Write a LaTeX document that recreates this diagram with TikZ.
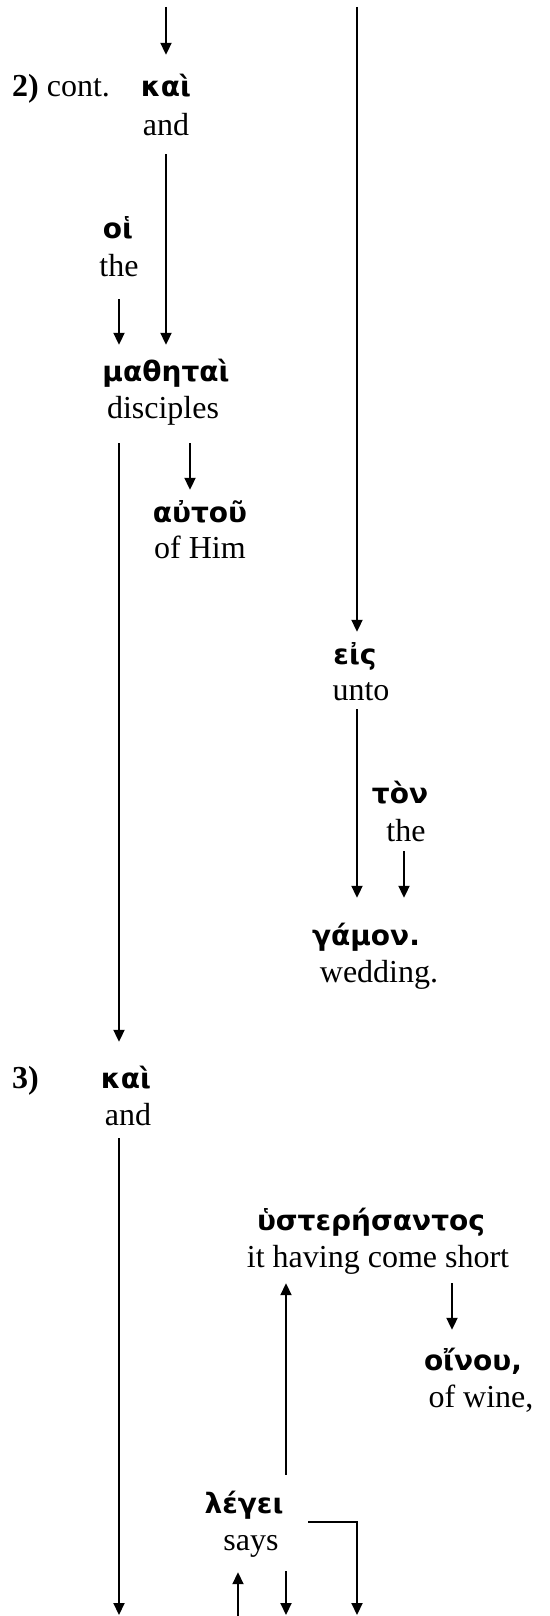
\documentclass[tikz,border=0pt]{standalone}
\usepackage{fontspec}
\setmainfont{Liberation Serif}
\newfontfamily\gkfont{DejaVu Sans}
\usetikzlibrary{arrows.meta,calc}
\begin{document}
\begin{tikzpicture}[x=1pt,y=-1pt,
  gk/.style={inner sep=0pt,anchor=base,text height=20pt,text depth=6pt,font=\gkfont\bfseries\fontsize{28}{32}\selectfont},
  en/.style={inner sep=0pt,anchor=base,text height=22pt,text depth=7pt,font=\fontsize{32}{38}\selectfont},
  lbl/.style={inner sep=0pt,anchor=base west,font=\fontsize{32}{38}\selectfont},
  conn/.style={line width=2pt},
  arr/.style={conn,-{Triangle[length=12pt,width=11pt]}}]
\useasboundingbox (0,0) rectangle (549,1616);
% section 2 cont.
\node[lbl] (sec2) at (12,97) {\textbf{2)} cont.};
\node[gk] (kai1) at (166,97) {καὶ};
\node[en] (and1) at (166,136) {and};
\node[gk] (oi) at (118,238) {οἱ};
\node[en] (the1) at (119,276) {the};
\node[gk] (mathetai) at (166,381) {μαθηταὶ};
\node[en] (disc) at (163,418) {disciples};
\node[gk] (autou) at (200,522) {αὐτοῦ};
\node[en] (ofhim) at (200,558) {of Him};
\node[gk] (eis) at (355,664) {εἰς};
\node[en] (unto) at (361,700) {unto};
\node[gk] (ton) at (400,803) {τὸν};
\node[en] (the2) at (406,841) {the};
\node[gk] (gamon) at (366,945) {γάμον.};
\node[en] (wedding) at (379,982) {wedding.};
% section 3
\node[lbl] (sec3) at (12,1088) {\textbf{3)}};
\node[gk] (kai2) at (126,1088) {καὶ};
\node[en] (and2) at (128,1125) {and};
\node[gk] (hyst) at (371,1230) {ὑστερήσαντος};
\node[en] (short) at (378,1267) {it having come short};
\node[gk] (oinou) at (473,1370) {οἴνου,};
\node[en] (ofwine) at (481,1407) {of wine,};
\node[gk] (legei) at (244,1513) {λέγει};
\node[en] (says) at (251,1550) {says};
% free ends
\coordinate (t1) at (166,7);
\coordinate (t2) at (357,7);
\coordinate (b1) at (119,1615);
\coordinate (b3) at (357,1615);
\coordinate (b4) at (238,1616);
\coordinate (b5) at (286,1615);
% connectors
\draw[arr,shorten >=22pt] (t1) -- (kai1.north);
\draw[arr,shorten >=12pt] (t2) -- ([xshift=2pt]eis.north);
\draw[arr,shorten <=11pt,shorten >=16pt] (and1.south) -- (mathetai.north);
\draw[arr,shorten <=16pt,shorten >=16pt] (the1.south) -- ([xshift=-47pt]mathetai.north);
\draw[arr,shorten <=18pt,shorten >=26pt] ([xshift=-44pt]disc.south) -- ([xshift=-7pt]kai2.north);
\draw[arr,shorten <=18pt,shorten >=12pt] ([xshift=27pt]disc.south) -- ([xshift=-10pt]autou.north);
\draw[arr,shorten <=2pt,shorten >=27pt] ([xshift=-4pt]unto.south) -- ([xshift=-9pt]gamon.north);
\draw[arr,shorten <=3pt,shorten >=27pt] ([xshift=-2pt]the2.south) -- ([xshift=38pt]gamon.north);
\draw[arr,shorten <=6pt] ([xshift=-9pt]and2.south) -- (b1);
\draw[arr,shorten <=18pt,shorten >=9pt] ([xshift=42pt]legei.north) -- ([xshift=-92pt]short.south);
\draw[arr,shorten <=9pt,shorten >=20pt] ([xshift=74pt]short.south) -- ([xshift=-21pt]oinou.north);
\draw[arr] ($(legei.base)+(64,9)$) -| (b3);
\draw[arr,shorten >=15pt] (b4) -- ([xshift=-13pt]says.south);
\draw[arr,shorten <=14pt] ([xshift=35pt]says.south) -- (b5);
\end{tikzpicture}
\end{document}
